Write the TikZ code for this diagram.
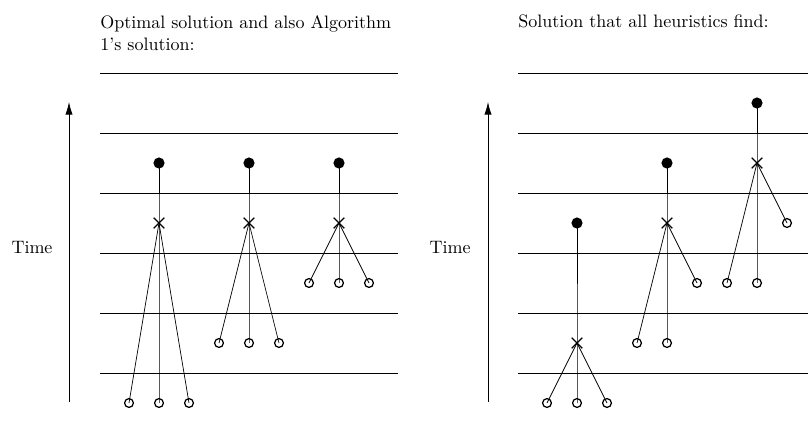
\documentclass[tikz,border=0pt]{standalone}
\usetikzlibrary{shapes.misc,arrows.meta}
\begin{document}
\begin{tikzpicture}[x=0.5556pt,y=-0.5556pt,
  opn/.style={circle,draw,line width=0.7pt,minimum size=4.9pt,inner sep=0pt},
  dot/.style={circle,fill,minimum size=6.2pt,inner sep=0pt},
  crs/.style={cross out,draw,line width=0.7pt,minimum size=5.2pt,inner sep=0pt},
  grid/.style={line width=0.4pt},
  tarrow/.style={-{Latex[length=7pt,width=4pt]}},
  title/.style={anchor=base west,inner sep=0pt,align=left,font=\normalsize}]
\useasboundingbox (0,0) rectangle (808,430);
% titles
\node[title] (t1) at (100,50) {Optimal solution and also Algorithm\\1's solution:};
\node[title] (t2) at (518,27) {Solution that all heuristics find:};
% grid lines
\foreach \yy in {73,133,193,253,313,373}{
  \draw[grid] (100,\yy) -- (398,\yy);
  \draw[grid] (518,\yy) -- (808,\yy);
}
% time axes
\coordinate (a1s) at (69,402); \coordinate (a1e) at (69,102);
\coordinate (a2s) at (488,402); \coordinate (a2e) at (488,102);
\draw[tarrow] (a1s) -- (a1e);
\draw[tarrow] (a2s) -- (a2e);
\node[anchor=base,inner sep=0pt] (time1) at (32,253) {Time};
\node[anchor=base,inner sep=0pt] (time2) at (450,253) {Time};
% ---------- left panel ----------
% column 1
\node[dot] (d1) at (159,163) {};
\node[crs] (x1) at (159,223) {};
\node[opn] (o1a) at (129,403) {};
\node[opn] (o1b) at (159,403) {};
\node[opn] (o1c) at (189,403) {};
\draw (o1a.center) -- (x1.center);
\draw (o1c.center) -- (x1.center);
\draw (o1b.center) -- (x1.center) -- (d1.center);
% column 2
\node[dot] (d2) at (249,163) {};
\node[crs] (x2) at (249,223) {};
\node[opn] (o2a) at (219,343) {};
\node[opn] (o2b) at (249,343) {};
\node[opn] (o2c) at (279,343) {};
\draw (o2a.center) -- (x2.center);
\draw (o2c.center) -- (x2.center);
\draw (o2b.center) -- (x2.center) -- (d2.center);
% column 3
\node[dot] (d3) at (339,163) {};
\node[crs] (x3) at (339,223) {};
\node[opn] (o3a) at (309,283) {};
\node[opn] (o3b) at (339,283) {};
\node[opn] (o3c) at (369,283) {};
\draw (o3a.center) -- (x3.center);
\draw (o3c.center) -- (x3.center);
\draw (o3b.center) -- (x3.center) -- (d3.center);
% ---------- right panel ----------
% column A
\node[dot] (dA) at (577,223) {};
\node[crs] (xA) at (577,343) {};
\node[opn] (oAa) at (547,403) {};
\node[opn] (oAb) at (577,403) {};
\node[opn] (oAc) at (607,403) {};
\draw (oAa.center) -- (xA.center);
\draw (oAc.center) -- (xA.center);
\draw (oAb.center) -- (xA.center) -- (dA.center);
% column B
\node[dot] (dB) at (667,163) {};
\node[crs] (xB) at (667,223) {};
\node[opn] (oBa) at (637,343) {};
\node[opn] (oBb) at (667,343) {};
\node[opn] (oBc) at (697,283) {};
\draw (oBa.center) -- (xB.center);
\draw (oBc.center) -- (xB.center);
\draw (oBb.center) -- (xB.center) -- (dB.center);
% column C
\node[dot] (dC) at (757,103) {};
\node[crs] (xC) at (757,163) {};
\node[opn] (oCa) at (727,283) {};
\node[opn] (oCb) at (757,283) {};
\node[opn] (oCc) at (787,223) {};
\draw (oCa.center) -- (xC.center);
\draw (oCc.center) -- (xC.center);
\draw (oCb.center) -- (xC.center) -- (dC.center);
\end{tikzpicture}
\end{document}
